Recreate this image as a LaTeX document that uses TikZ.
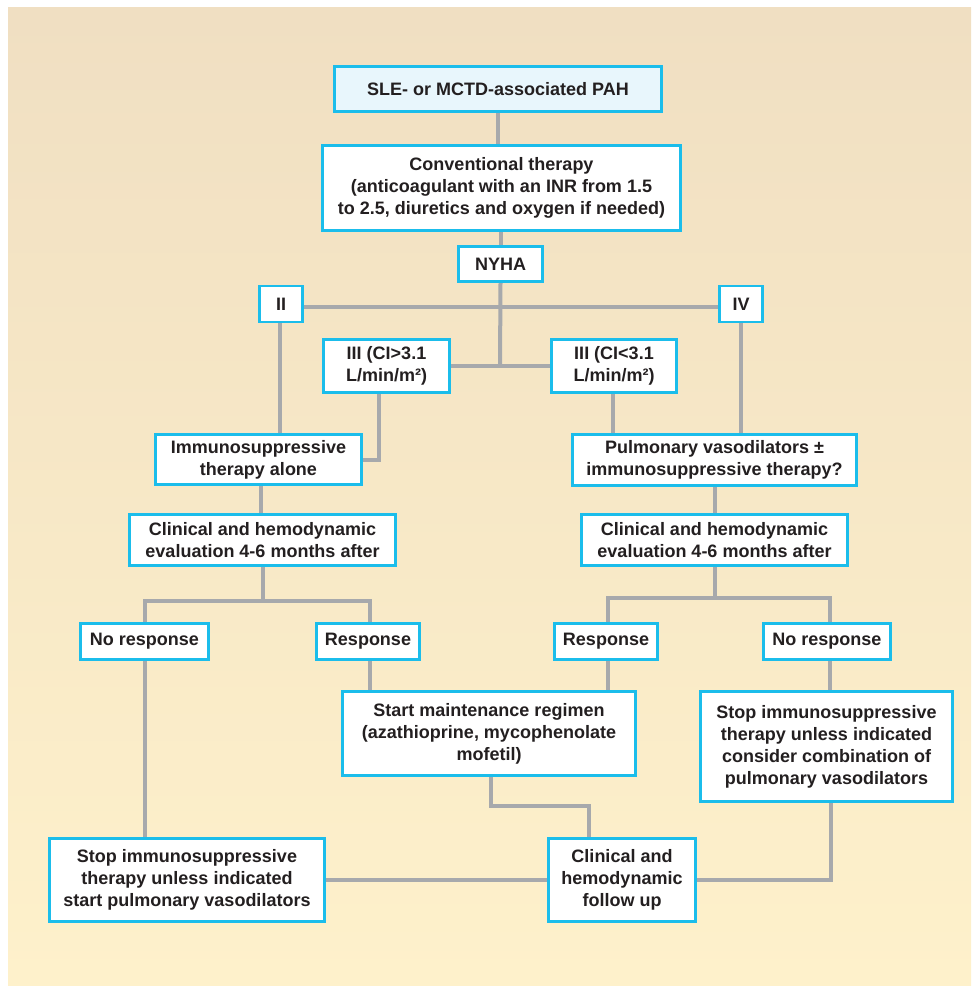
\documentclass[tikz,border=0pt]{standalone}
\usepackage{fontspec}
\setmainfont{Liberation Sans}
\definecolor{boxcyan}{HTML}{1BBDEB}
\definecolor{linegray}{HTML}{A7A9AC}
\definecolor{bgtop}{HTML}{F0DFC2}
\definecolor{bgbot}{HTML}{FEF1CB}
\definecolor{topfill}{HTML}{E8F6FC}
\definecolor{txt}{HTML}{231F20}
\pgfdeclarelayer{bg}
\pgfdeclarelayer{lines}
\pgfsetlayers{bg,lines,main}
\begin{document}
\begin{tikzpicture}[x=1pt,y=-1pt,
  box/.style={draw=boxcyan, line width=2.8pt, fill=white, inner sep=0pt,
    align=center, font=\fontsize{18}{22}\selectfont\bfseries, text=txt},
  conn/.style={draw=linegray, line width=4pt}]
\useasboundingbox (0,0) rectangle (971,987);
\begin{pgfonlayer}{bg}
  \shade[top color=bgtop, bottom color=bgbot, shading angle=0] (8,8) rectangle (971,985);
\end{pgfonlayer}
% nodes
\node[box, fill=topfill, minimum width=327, minimum height=45] (top) at (498,89) {SLE- or MCTD-associated PAH};
\node[box, minimum width=358, minimum height=85] (conv) at (501.5,188) {Conventional therapy\\(anticoagulant with an INR from 1.5\\to 2.5, diuretics and oxygen if needed)};
\node[box, minimum width=84, minimum height=35] (nyha) at (500.5,264) {NYHA};
\node[box, minimum width=43, minimum height=36] (two) at (281,304) {II};
\node[box, minimum width=43, minimum height=36] (four) at (741,304) {IV};
\node[box, minimum width=126, minimum height=53] (thra) at (386.5,366) {III (CI>3.1\\L/min/m²)};
\node[box, minimum width=125, minimum height=53] (thrb) at (614,366) {III (CI<3.1\\L/min/m²)};
\node[box, minimum width=206, minimum height=50] (immuno) at (258.5,459.5) {Immunosuppressive\\therapy alone};
\node[box, minimum width=284, minimum height=51] (pulm) at (714.5,460) {Pulmonary vasodilators ±\\immunosuppressive therapy?};
\node[box, minimum width=266, minimum height=51] (clinL) at (262.5,540) {Clinical and hemodynamic\\evaluation 4-6 months after};
\node[box, minimum width=266, minimum height=51] (clinR) at (714.5,540) {Clinical and hemodynamic\\evaluation 4-6 months after};
\node[box, minimum width=128, minimum height=36] (noL) at (144.5,641.5) {No response};
\node[box, minimum width=103, minimum height=36] (resL) at (368,641.5) {Response};
\node[box, minimum width=103, minimum height=36] (resR) at (606,641.5) {Response};
\node[box, minimum width=127, minimum height=36] (noR) at (827,641.5) {No response};
\node[box, minimum width=293, minimum height=84] (maint) at (489,733.5) {Start maintenance regimen\\(azathioprine, mycophenolate\\mofetil)};
\node[box, minimum width=252, minimum height=110] (stopR) at (826.5,746.5) {Stop immunosuppressive\\therapy unless indicated\\consider combination of\\pulmonary vasodilators};
\node[box, minimum width=275, minimum height=83] (stopL) at (187,880) {Stop immunosuppressive\\therapy unless indicated\\start pulmonary vasodilators};
\node[box, minimum width=147, minimum height=83] (follow) at (622,880) {Clinical and\\hemodynamic\\follow up};
% coordinates
\coordinate (jn) at (500,366);
\coordinate (jl) at (262.5,601);
\coordinate (jr) at (714.5,598);
\coordinate (mj) at (589,806);
\begin{pgfonlayer}{lines}
\draw[conn] (top.south) -- (top.south |- conv.north);
\draw[conn] (conv.south -| nyha.north) -- (nyha.north);
\draw[conn] (two.east |- 0,307) -- (four.west |- 0,307);
\draw[conn] (nyha.south) -- (jn);
\draw[conn] (thra.east) -- (thrb.west);
\draw[conn] ([xshift=-1pt]two.south) -- ([xshift=-1pt]two.south |- immuno.north);
\draw[conn] ([xshift=-7.5pt]thra.south) |- (immuno.east);
\draw[conn] ([xshift=-1pt]thrb.south) -- ([xshift=-1pt]thrb.south |- pulm.north);
\draw[conn] (four.south) -- (four.south |- pulm.north);
\draw[conn] ([xshift=2.5pt]immuno.south) -- ([xshift=2.5pt]immuno.south |- clinL.north);
\draw[conn] (pulm.south) -- (pulm.south |- clinR.north);
\draw[conn] (clinL.south) -- (jl);
\draw[conn] (noL.north) |- (jl) -| ([xshift=2pt]resL.north);
\draw[conn] (clinR.south) -- (jr);
\draw[conn] ([xshift=2pt]resR.north) |- (jr) -| ([xshift=3pt]noR.north);
\draw[conn] ([xshift=2pt]resL.south) -- ([xshift=2pt]resL.south |- maint.north);
\draw[conn] ([xshift=2pt]resR.south) -- ([xshift=2pt]resR.south |- maint.north);
\draw[conn] ([xshift=3pt]noR.south) -- ([xshift=3pt]noR.south |- stopR.north);
\draw[conn] (noL.south) -- (noL.south |- stopL.north);
\draw[conn] ([xshift=2pt]maint.south) |- (mj) -- (mj |- follow.north);
\draw[conn] (stopL.east) -- (follow.west);
\draw[conn] ([xshift=4pt]stopR.south) |- (follow.east);
\end{pgfonlayer}
\end{tikzpicture}
\end{document}
